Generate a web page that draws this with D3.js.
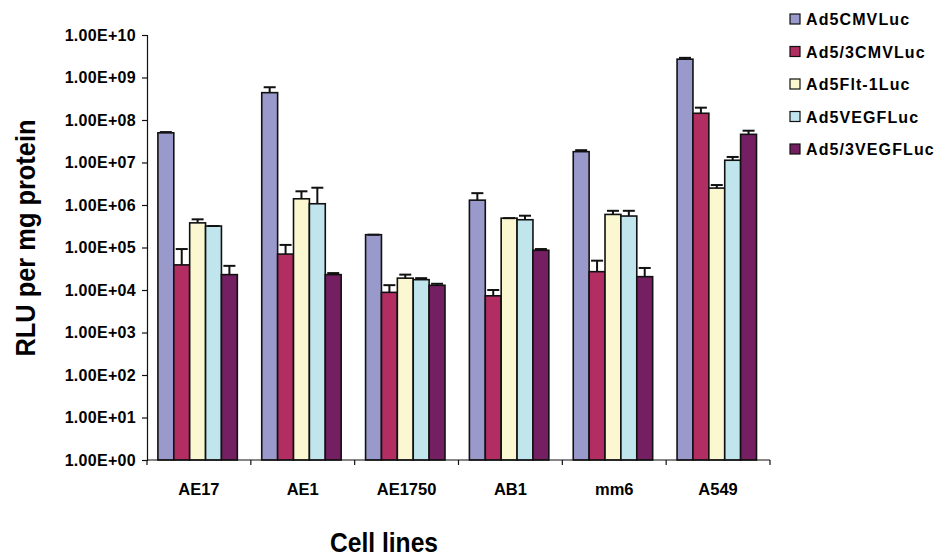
<!DOCTYPE html>
<html>
<head>
<meta charset="utf-8">
<script src="https://cdn.jsdelivr.net/npm/d3@7"></script>
<style>
  html, body { margin: 0; padding: 0; background: #fff; }
  svg { display: block; font-family: "Liberation Sans", Arial, sans-serif; font-weight: bold; }
</style>
</head>
<body>
<svg id="chart" width="934" height="558"></svg>
<script>
// Cell lines on the x axis
const categories = ["AE17", "AE1", "AE1750", "AB1", "mm6", "A549"];

// Vector names (legend order)
const seriesNames = ["Ad5CMVLuc", "Ad5/3CMVLuc", "Ad5Flt-1Luc", "Ad5VEGFLuc", "Ad5/3VEGFLuc"];
const seriesColors = ["#9999CC", "#B12D62", "#FAF7D1", "#C0E5EC", "#741F62"];

// Mean luciferase activity (RLU per mg protein), one array per vector
const ad5CMVLuc    = [5.0e7, 4.4e8, 2.0e5, 1.3e6, 1.8e7, 2.7e9];
const ad53CMVLuc   = [3.9e4, 7.0e4, 8.8e3, 7.3e3, 2.7e4, 1.44e8];
const ad5Flt1Luc   = [3.8e5, 1.4e6, 1.9e4, 4.9e5, 6.0e5, 2.5e6];
const ad5VEGFLuc   = [3.2e5, 1.07e6, 1.75e4, 4.5e5, 5.5e5, 1.13e7];
const ad53VEGFLuc  = [2.3e4, 2.3e4, 1.29e4, 8.6e4, 2.06e4, 4.6e7];

// Upper end of each error bar (mean + SD)
const ad5CMVLucErr   = [5.2e7, 5.9e8, 2.0e5, 1.9e6, 1.95e7, 2.9e9];
const ad53CMVLucErr  = [9.2e4, 1.15e5, 1.3e4, 1.0e4, 4.9e4, 1.95e8];
const ad5Flt1LucErr  = [4.6e5, 2.1e6, 2.3e4, 4.9e5, 7.3e5, 2.95e6];
const ad5VEGFLucErr  = [3.2e5, 2.55e6, 1.9e4, 5.6e5, 7.3e5, 1.35e7];
const ad53VEGFLucErr = [3.7e4, 2.5e4, 1.4e4, 9.2e4, 3.3e4, 5.6e7];

// Log axis ticks and their labels
const yTickValues = [1, 1e1, 1e2, 1e3, 1e4, 1e5, 1e6, 1e7, 1e8, 1e9, 1e10];
const yTickLabels = ["1.00E+00", "1.00E+01", "1.00E+02", "1.00E+03", "1.00E+04", "1.00E+05",
                     "1.00E+06", "1.00E+07", "1.00E+08", "1.00E+09", "1.00E+10"];

const seriesValues = [ad5CMVLuc, ad53CMVLuc, ad5Flt1Luc, ad5VEGFLuc, ad53VEGFLuc];
const seriesErrors = [ad5CMVLucErr, ad53CMVLucErr, ad5Flt1LucErr, ad5VEGFLucErr, ad53VEGFLucErr];

const svg = d3.select("#chart");
const plot = { left: 147, right: 770, top: 35, bottom: 460 };

const x = d3.scaleBand().domain(categories).range([plot.left, plot.right]).padding(0);
const bw = x.bandwidth();
const xSub = d3.scaleBand().domain(seriesNames).range([bw * 0.105, bw * 0.87]).padding(0);
const y = d3.scaleLog().domain([1, 1e10]).range([plot.bottom, plot.top]);
const color = d3.scaleOrdinal().domain(seriesNames).range(seriesColors);

// Flatten into one record per bar
const bars = [];
categories.forEach((c, ci) => {
  seriesNames.forEach((s, si) => {
    bars.push({ cat: c, series: s, value: seriesValues[si][ci], err: seriesErrors[si][ci] });
  });
});

// Bars
svg.append("g").selectAll("rect").data(bars).join("rect")
  .attr("x", d => x(d.cat) + xSub(d.series))
  .attr("y", d => y(d.value))
  .attr("width", xSub.bandwidth())
  .attr("height", d => y(1) - y(d.value))
  .attr("fill", d => color(d.series))
  .attr("stroke", "#111")
  .attr("stroke-width", 1.6);

// Error bars (upper only)
const capHalf = 6;
const eg = svg.append("g").attr("stroke", "#111").attr("stroke-width", 2).attr("fill", "none");
bars.forEach(d => {
  const cx = x(d.cat) + xSub(d.series) + xSub.bandwidth() / 2;
  eg.append("line").attr("x1", cx).attr("x2", cx).attr("y1", y(d.value)).attr("y2", y(d.err));
  eg.append("line").attr("x1", cx - capHalf).attr("x2", cx + capHalf).attr("y1", y(d.err)).attr("y2", y(d.err));
});

// Y axis
const yAxis = d3.axisLeft(y)
  .tickValues(yTickValues)
  .tickFormat((v, i) => yTickLabels[i])
  .tickSize(5)
  .tickPadding(6);
const gy = svg.append("g").attr("transform", `translate(${plot.left},0)`).call(yAxis);
gy.select(".domain").attr("stroke", "#111").attr("stroke-width", 1.2);
gy.selectAll(".tick line").attr("stroke", "#111").attr("stroke-width", 1.2);
gy.selectAll(".tick text")
  .attr("fill", "#000")
  .style("font-family", "'Liberation Sans', Arial, sans-serif")
  .style("font-weight", "bold")
  .style("font-size", "16px")
  .style("letter-spacing", "0.3px");

// X axis: tick marks at group boundaries, labels centred under groups
const xAxisG = svg.append("g");
xAxisG.append("line")
  .attr("x1", plot.left).attr("x2", plot.right)
  .attr("y1", plot.bottom).attr("y2", plot.bottom)
  .attr("stroke", "#111").attr("stroke-width", 1.2);
const bounds = categories.map(c => x(c)).concat([plot.right]);
xAxisG.selectAll(".bt").data(bounds).join("line")
  .attr("x1", d => d).attr("x2", d => d)
  .attr("y1", plot.bottom).attr("y2", plot.bottom + 5)
  .attr("stroke", "#111").attr("stroke-width", 1.2);
xAxisG.selectAll(".lbl").data(categories).join("text")
  .attr("x", d => x(d) + bw / 2)
  .attr("y", 495)
  .attr("text-anchor", "middle")
  .style("font-size", "16.5px")
  .text(d => d);

// Axis titles
svg.append("text")
  .attr("x", 384).attr("y", 552)
  .attr("text-anchor", "middle")
  .attr("textLength", 108).attr("lengthAdjust", "spacingAndGlyphs")
  .style("font-size", "28px")
  .text("Cell lines");

svg.append("text")
  .attr("transform", "translate(35,238) rotate(-90)")
  .attr("text-anchor", "middle")
  .attr("textLength", 237).attr("lengthAdjust", "spacingAndGlyphs")
  .style("font-size", "27px")
  .text("RLU per mg protein");

// Legend
const legend = svg.append("g").attr("transform", "translate(790,0)");
const rows = legend.selectAll("g").data(seriesNames).join("g")
  .attr("transform", (d, i) => `translate(0,${19 + i * 32.5})`);
rows.append("rect")
  .attr("x", 0).attr("y", -5).attr("width", 10).attr("height", 10)
  .attr("fill", d => color(d)).attr("stroke", "#111").attr("stroke-width", 1.2);
rows.append("text")
  .attr("x", 16).attr("y", 6)
  .style("font-size", "16px")
  .style("letter-spacing", "1.1px")
  .text(d => d);
</script>
</body>
</html>
